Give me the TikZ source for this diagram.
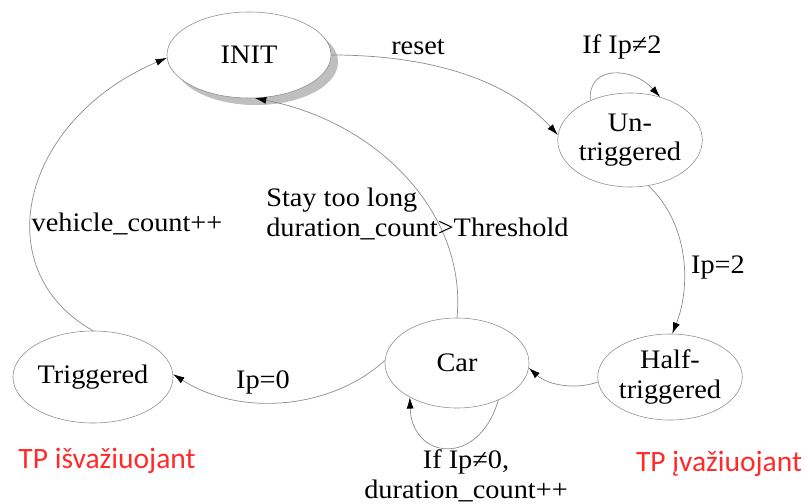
\documentclass[tikz,border=0pt]{standalone}
\usepackage{fontspec}
\setmainfont{Liberation Serif}[FakeStretch=1.06]
\newfontfamily\tpfont{Carlito}
\usetikzlibrary{arrows.meta,positioning,shapes.geometric,shadows}
\definecolor{tpred}{HTML}{FF2A2A}
\definecolor{edgegray}{HTML}{8C8C8C}

\begin{document}
\begin{tikzpicture}[
    x=0.025cm, y=-0.025cm,
    state/.style={draw=edgegray, ellipse, inner sep=0pt, align=center, fill=white, font=\fontsize{19}{21}\selectfont},
    lbl/.style={inner sep=0pt, align=center, font=\fontsize{19}{21}\selectfont},
    arr/.style={-{Latex[length=8pt,width=5pt,color=black]}, draw=edgegray, line width=0.5pt},
    tp/.style={text=tpred, inner sep=0pt, font=\tpfont\fontsize{21}{23}\selectfont},
  ]
    \useasboundingbox (0,0) rectangle (806,504);

    % states
    \node[state, minimum width=4.1cm, minimum height=2.15cm,
          general shadow={fill=black!25, shadow xshift=5pt, shadow yshift=-5pt}] (init) at (249,55) {INIT};
    \node[state, minimum width=3.6cm, minimum height=2.35cm] (un) at (630,140) {Un-\\triggered};
    \node[state, minimum width=3.6cm, minimum height=2.15cm] (half) at (670,377) {Half-\\triggered};
    \node[state, minimum width=3.6cm, minimum height=2.25cm] (car) at (457,363) {Car};
    \node[state, minimum width=4.0cm, minimum height=2.3cm] (trig) at (93,377) {Triggered};

    % transitions
    \draw[arr] (init.east) .. controls +(100,0) and +(-50,-55) .. (un.176);
    \draw[arr] (un.135) .. controls +(-3,-36) and +(-27,-30) .. (un.55);
    \draw[arr] (un.-68) .. controls +(42,40) and +(18,-45) .. (half.87);
    \draw[arr] (half.184) .. controls +(-23,8) and +(19,17) .. (car.-4);
    \draw[arr] (car.178) .. controls +(-54,49) and +(67,43) .. (trig.2);
    \draw[arr] (car.-42) .. controls +(-20,68) and +(2,62) .. (car.-144);
    \draw[arr] (car.north) .. controls +(10,-103) and +(124,24) .. (init.-82);
    \draw[arr] (trig.north) .. controls +(-108,-61) and +(-146,62) .. (init.182);

    % labels
    \node[lbl] (lreset) at (418,47) {reset};
    \node[lbl] (lnot2) at (622,47) {If Ip≠2};
    \node[lbl] (lip2) at (718,267) {Ip=2};
    \node[lbl] (lip0) at (263,382) {Ip=0};
    \node[lbl, align=left, anchor=west] (lstay) at (266,214) {Stay too long\\duration\_count>Threshold};
    \node[lbl] (lveh) at (127,224) {vehicle\_count++};
    \node[lbl] (lnot0) at (466,476) {If Ip≠0,\\duration\_count++};

    \node[tp] (tpout) at (107,461) {TP išvažiuojant};
    \node[tp] (tpin) at (719,464) {TP įvažiuojant};
  \end{tikzpicture}
\end{document}
